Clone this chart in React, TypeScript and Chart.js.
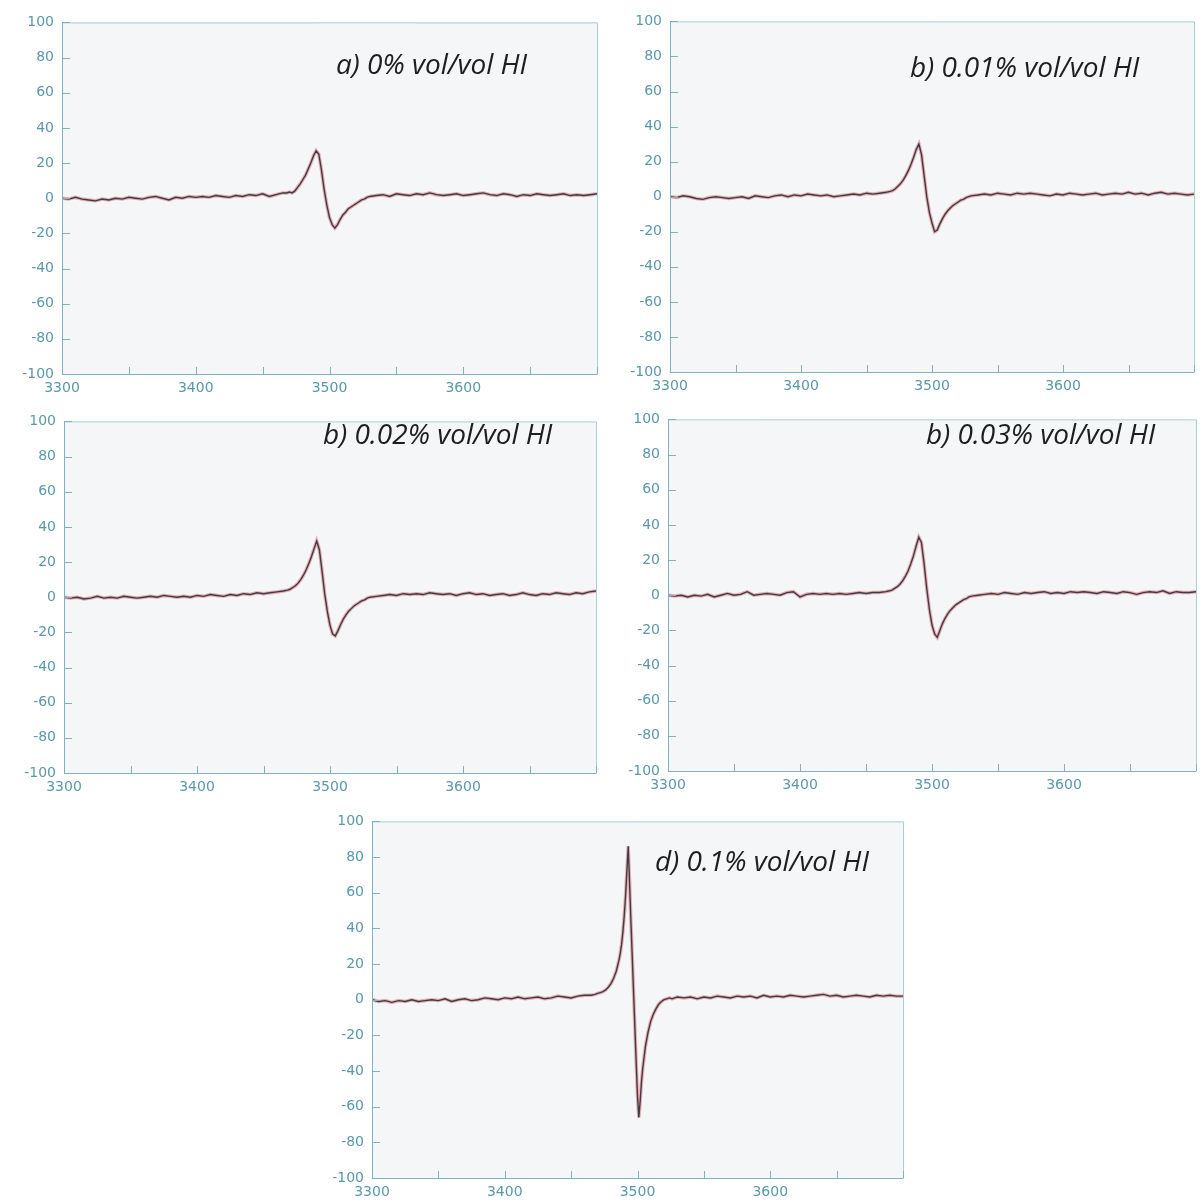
import React, { useEffect, useRef } from "react";
import { Chart, registerables } from "chart.js";

Chart.register(...registerables);

// Magnetic field (G) sampling positions
const FIELD = [
  3300, 3305, 3310, 3315, 3320, 3325, 3330, 3335, 3340, 3345,
  3350, 3355, 3360, 3365, 3370, 3375, 3380, 3385, 3390, 3395,
  3400, 3405, 3410, 3415, 3420, 3425, 3430, 3435, 3440, 3445,
  3450, 3455, 3460, 3465,
  3468, 3470, 3472, 3474, 3476, 3478, 3480, 3482, 3484, 3486,
  3488, 3490, 3492, 3494, 3496, 3498, 3500, 3502, 3504, 3506,
  3508, 3510, 3512, 3514, 3516, 3518, 3520, 3522, 3524, 3526,
  3528, 3530,
  3535, 3540, 3545, 3550, 3555, 3560, 3565, 3570, 3575, 3580,
  3585, 3590, 3595, 3600, 3605, 3610, 3615, 3620, 3625, 3630,
  3635, 3640, 3645, 3650, 3655, 3660, 3665, 3670, 3675, 3680,
  3685, 3690, 3695, 3700,
];

const FIELD_E = [
  3300, 3305, 3310, 3315, 3320, 3325, 3330, 3335, 3340, 3345,
  3350, 3355, 3360, 3365, 3370, 3375, 3380, 3385, 3390, 3395,
  3400, 3405, 3410, 3415, 3420, 3425, 3430, 3435, 3440, 3445,
  3450, 3455, 3460, 3465,
  3468, 3470, 3472, 3474, 3476, 3478, 3480, 3482, 3484, 3486,
  3487, 3488, 3489, 3490, 3491, 3492, 3493, 3494, 3495, 3496,
  3497, 3498, 3499, 3500, 3501, 3502, 3503, 3504, 3506, 3508,
  3510, 3512, 3514, 3516, 3518, 3520, 3522, 3524, 3526, 3528,
  3530,
  3535, 3540, 3545, 3550, 3555, 3560, 3565, 3570, 3575, 3580,
  3585, 3590, 3595, 3600, 3605, 3610, 3615, 3620, 3625, 3630,
  3635, 3640, 3645, 3650, 3655, 3660, 3665, 3670, 3675, 3680,
  3685, 3690, 3695, 3700,
];

// EPR signal intensities
const SIGNAL_A = [
  0, -0.5, 0.5, -0.5, -1, -1.5, -0.5, -1, 0, -0.5,
  0.5, 0, -0.5, 0.5, 1, 0, -1, 0.5, 0, 1,
  0.5, 1, 0.5, 1.5, 1, 0.5, 1.5, 1, 2, 1.5,
  2.5, 1, 2, 3,
  3, 3.5, 3, 4, 6, 8, 10.5, 13, 16.5, 20,
  24, 27, 25, 16, 5, -4, -11, -15, -17, -15,
  -12, -9.5, -8, -6, -5, -4, -3, -2, -1, -0.5,
  0.5, 1,
  1.5, 2, 1, 2.5, 2, 1.5, 2.5, 2, 3, 2,
  1.5, 2, 2.5, 1.5, 2, 2.5, 3, 2, 1.5, 2.5,
  2, 1, 2, 1.5, 2.5, 2, 1.5, 2, 2.5, 1.5,
  2, 1.5, 2, 2.5,
];

const SIGNAL_B = [
  0, -0.5, 0.5, 0, -1, -1.5, -0.5, 0, -0.5, -1,
  -0.5, 0, -1, 0.5, 0, -0.5, 0.5, 1, 0, 1,
  0.5, 1.5, 1, 0.5, 1, 0, 0.5, 1, 1.5, 1,
  2, 1.5, 2, 2.5,
  3, 3.5, 4.5, 6, 7.5, 9.5, 12, 15, 18.5, 22.5,
  27, 30, 24, 12, 0, -9, -15, -20, -19, -15.5,
  -12.5, -10, -8, -6.5, -5, -4, -3, -2, -1.5, -0.5,
  0, 0.5,
  1, 1.5, 1, 2, 1.5, 1, 2, 1.5, 2, 1.5,
  1, 0.5, 1.5, 1, 2, 1.5, 1, 1.5, 2, 1,
  1.5, 2, 1.5, 2.5, 1.5, 2, 1, 2, 2.5, 1.5,
  2, 1.5, 1, 1.5,
];

const SIGNAL_C = [
  0, -0.5, 0, -1, -0.5, 0.5, -0.5, 0, -0.5, 0.5,
  0, -0.5, 0, 0.5, 0, 1, 0.5, 0, 0.5, 0,
  1, 0.5, 1.5, 1, 0.5, 1.5, 1, 2, 1.5, 2.5,
  2, 2.5, 3, 3.5,
  4, 4.5, 5.5, 6.5, 8, 10, 12.5, 15.5, 19, 23,
  27.5, 32, 27, 15, 2, -8, -16, -21, -22, -19,
  -15.5, -12.5, -10, -8, -6.5, -5, -4, -3, -2, -1.5,
  -0.5, 0,
  0.5, 1, 1.5, 1, 2, 1.5, 2, 1.5, 2.5, 2,
  1.5, 2, 1, 2, 2.5, 1.5, 2, 1, 1.5, 2,
  1, 1.5, 2.5, 1.5, 1, 2, 1.5, 2.5, 2, 1.5,
  2.5, 2, 3, 3.5,
];

const SIGNAL_D = [
  0, -0.5, 0, -1, 0, -0.5, 0.5, -1, 0, 1,
  0, 0.5, 2, 0, 0.5, 1, 0.5, 0, 1.5, 2,
  -1, 0.5, 1, 0.5, 1, 0.5, 1, 0.5, 1, 1.5,
  1, 1.5, 1.5, 2,
  2.5, 3, 4, 5, 6.5, 8.5, 11, 14, 18, 22.5,
  28, 33, 30, 18, 4, -8, -17, -22, -24, -20,
  -16, -13, -10.5, -8.5, -7, -5.5, -4.5, -3.5, -2.5, -2,
  -1, -0.5,
  0, 0.5, 1, 0.5, 1.5, 1, 0.5, 1.5, 1, 1.5,
  2, 1, 1.5, 1, 2, 1.5, 2, 1.5, 1, 2,
  1.5, 1, 2, 1.5, 0.5, 1.5, 2, 1.5, 2.5, 1,
  2, 1.5, 1.5, 2,
];

const SIGNAL_E = [
  0, -1, -0.5, -1.5, -0.5, -1, 0, -1, -0.5, 0,
  -0.5, 0.5, -1, 0, 0.5, -0.5, 0, 1, 0.5, 0,
  1, 0.5, 1.5, 0.5, 1, 1.5, 0.5, 1, 2, 1.5,
  1, 2, 2.5, 2.5,
  3, 3.5, 4, 4.5, 5.5, 7, 9, 12, 16, 22,
  26, 31, 38, 47, 58, 72, 86, 66, 45, 25,
  5, -15, -35, -54, -66, -57, -46, -38, -26, -18,
  -12, -8, -5, -2.5, -1, 0, 0.5, 1, 0.5, 1,
  1.5,
  1, 1.5, 0.5, 1.5, 1, 2, 1.5, 1, 2, 1.5,
  2, 1, 2.5, 1.5, 2, 1.5, 2.5, 2, 1.5, 2,
  2.5, 3, 2, 2.5, 1.5, 2, 2.5, 2, 1.5, 2.5,
  2, 2.5, 2, 2,
];

const TITLES = [
  "a) 0% vol/vol HI",
  "b) 0.01% vol/vol HI",
  "b) 0.02% vol/vol HI",
  "b) 0.03% vol/vol HI",
  "d) 0.1% vol/vol HI",
];

const X_LABELED = [3300, 3400, 3500, 3600];
const X_MIN = 3300;
const X_MAX = 3700;
const X_STEP = 50;
const Y_MIN = -100;
const Y_MAX = 100;
const Y_STEP = 20;

// Layout (page coordinates of plot areas and titles)
const LAYOUT = [
  { l: 62, t: 16, r: 597, b: 374, tx: 336, ty: 74 },
  { l: 670, t: 15, r: 1194, b: 372, tx: 910, ty: 77 },
  { l: 64, t: 415, r: 596, b: 773, tx: 323, ty: 444 },
  { l: 668, t: 413, r: 1196, b: 771, tx: 926, ty: 444 },
  { l: 372, t: 815, r: 903, b: 1178, tx: 655, ty: 871 },
];

const PAD_L = 60;
const PAD_T = 10;
const PAD_R = 12;
const PAD_B = 30;

const TICK_COLOR = "#5a99a8";
const AXIS_COLOR = "#7fb2be";
const FRAME_COLOR = "#a9ced6";
const PLOT_BG = "#f4f6f8";

type Box = { l: number; t: number; r: number; b: number; tx: number; ty: number };

function Panel({ fields, values, title, box }: { fields: number[]; values: number[]; title: string; box: Box }) {
  const ref = useRef<HTMLCanvasElement | null>(null);
  const w = box.r - box.l + PAD_L + PAD_R;
  const h = box.b - box.t + PAD_T + PAD_B;
  const left = box.l - PAD_L;
  const top = box.t - PAD_T;

  useEffect(() => {
    if (!ref.current) return;
    const pts = fields.map((x, i) => ({ x, y: values[i] }));
    const framePlugin = {
      id: "frame",
      beforeDraw(chart: any) {
        const { ctx, chartArea: a } = chart;
        ctx.save();
        ctx.fillStyle = PLOT_BG;
        ctx.fillRect(a.left, a.top, a.right - a.left, a.bottom - a.top);
        ctx.restore();
      },
      afterDraw(chart: any) {
        const { ctx, chartArea: a } = chart;
        ctx.save();
        ctx.lineWidth = 1;
        ctx.strokeStyle = FRAME_COLOR;
        ctx.beginPath();
        ctx.moveTo(a.left, a.top + 0.5);
        ctx.lineTo(a.right + 0.5, a.top + 0.5);
        ctx.lineTo(a.right + 0.5, a.bottom);
        ctx.stroke();
        ctx.strokeStyle = AXIS_COLOR;
        ctx.beginPath();
        ctx.moveTo(a.left + 0.5, a.top);
        ctx.lineTo(a.left + 0.5, a.bottom + 0.5);
        ctx.lineTo(a.right + 0.5, a.bottom + 0.5);
        ctx.stroke();
        // inner tick marks
        const xs = chart.scales.x;
        const ys = chart.scales.y;
        ctx.beginPath();
        xs.ticks.forEach((t: any) => {
          const px = Math.round(xs.getPixelForValue(t.value)) + 0.5;
          ctx.moveTo(px, a.bottom);
          ctx.lineTo(px, a.bottom - 7);
        });
        ys.ticks.forEach((t: any) => {
          const py = Math.round(ys.getPixelForValue(t.value)) + 0.5;
          ctx.moveTo(a.left, py);
          ctx.lineTo(a.left + 8, py);
        });
        ctx.stroke();
        // title
        ctx.fillStyle = "#1e1e1e";
        ctx.font = 'italic 28px "Open Sans", "Noto Sans", sans-serif';
        ctx.textAlign = "left";
        ctx.textBaseline = "alphabetic";
        ctx.fillText(title, box.tx - left, box.ty - top);
        ctx.restore();
      },
    };

    const tickFont = { family: '"DejaVu Sans", sans-serif', size: 14 };
    const chart = new Chart(ref.current, {
      type: "line",
      data: {
        datasets: [
          {
            data: pts,
            borderColor: "#34404f",
            borderWidth: 1.4,
            pointRadius: 0,
            tension: 0,
            order: 0,
          },
          {
            data: pts,
            borderColor: "rgba(236,120,120,0.6)",
            borderWidth: 3.5,
            pointRadius: 0,
            tension: 0,
            order: 1,
          },
        ],
      },
      options: {
        responsive: false,
        animation: false,
        devicePixelRatio: 1,
        layout: { padding: { top: PAD_T, right: PAD_R, left: 0, bottom: 0 } },
        plugins: {
          legend: { display: false },
          tooltip: { enabled: false },
          title: { display: false },
        },
        scales: {
          x: {
            type: "linear",
            min: X_MIN,
            max: X_MAX,
            afterFit: (s: any) => {
              s.height = PAD_B;
            },
            ticks: {
              stepSize: X_STEP,
              autoSkip: false,
              maxRotation: 0,
              padding: 6,
              color: TICK_COLOR,
              font: tickFont,
              callback: (v: any) => (X_LABELED.includes(Number(v)) ? String(v) : ""),
            },
            grid: { display: false, drawTicks: false },
            border: { display: false },
          },
          y: {
            type: "linear",
            min: Y_MIN,
            max: Y_MAX,
            afterFit: (s: any) => {
              s.width = PAD_L;
            },
            ticks: {
              stepSize: Y_STEP,
              padding: 8,
              color: TICK_COLOR,
              font: tickFont,
            },
            grid: { display: false, drawTicks: false },
            border: { display: false },
          },
        },
      } as any,
      plugins: [framePlugin],
    });
    return () => chart.destroy();
  }, []);

  return (
    <div style={{ position: "absolute", left, top, width: w, height: h }}>
      <canvas ref={ref} width={w} height={h} style={{ display: "block" }} />
    </div>
  );
}

const FIELDS = [FIELD, FIELD, FIELD, FIELD, FIELD_E];
const SIGNALS = [SIGNAL_A, SIGNAL_B, SIGNAL_C, SIGNAL_D, SIGNAL_E];

export default function App() {
  return (
    <div style={{ position: "absolute", left: 0, top: 0, width: 1204, height: 1202, background: "#ffffff" }}>
      {LAYOUT.map((box, i) => (
        <Panel key={i} fields={FIELDS[i]} values={SIGNALS[i]} title={TITLES[i]} box={box} />
      ))}
    </div>
  );
}
